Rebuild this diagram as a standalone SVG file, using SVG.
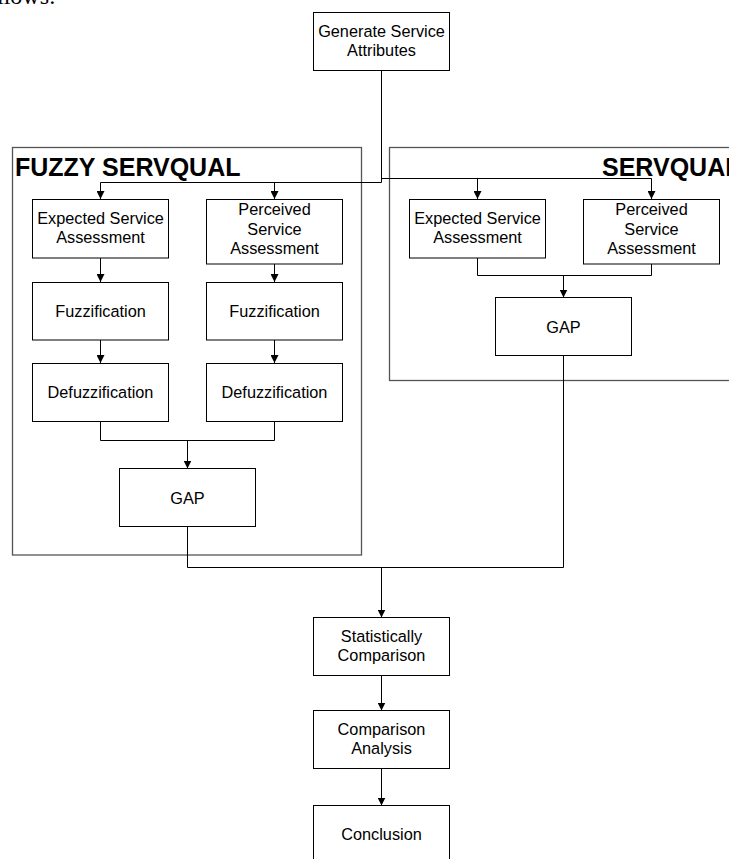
<svg xmlns="http://www.w3.org/2000/svg" width="729" height="859" viewBox="0 0 729 859">
<style>
.box{fill:#fff;stroke:#000;stroke-width:1}
.cont{fill:none;stroke:#555;stroke-width:1.3}
.t{font-family:"Liberation Sans",Arial,sans-serif;font-size:16.3px;text-anchor:middle;fill:#000}
.title{font-family:"Liberation Sans",Arial,sans-serif;font-size:25px;font-weight:bold;fill:#000}
.conn{fill:none;stroke:#000;stroke-width:1}
.page{font-family:"Liberation Serif","Times New Roman",serif;font-size:24px;fill:#000}
</style>
<defs>
<marker id="arr" markerUnits="userSpaceOnUse" markerWidth="8" markerHeight="8" refX="8" refY="4" orient="auto">
<path d="M0,0 L8,4 L0,8 z" fill="#000"/>
</marker>
</defs>
<rect width="729" height="859" fill="#fff"/>
<text class="page" x="-3" y="4">llows:</text>

<g id="fuzzy-container">
<rect class="cont" x="12.5" y="147.5" width="349" height="407.5"/>
<text class="title" x="15" y="175.5">FUZZY SERVQUAL</text>
</g>
<g id="servqual-container">
<rect class="cont" x="389.5" y="147.5" width="360" height="233"/>
<text class="title" x="602" y="175.5">SERVQUAL</text>
</g>

<g id="connectors">
<path class="conn" d="M381.5,70.5 V182.5 H100.5 V199" marker-end="url(#arr)"/>
<path class="conn" d="M274.5,182.5 V199" marker-end="url(#arr)"/>
<path class="conn" d="M381.5,178.5 H651.5 V199" marker-end="url(#arr)"/>
<path class="conn" d="M477.5,178.5 V199" marker-end="url(#arr)"/>
<path class="conn" d="M100.5,258 V282" marker-end="url(#arr)"/>
<path class="conn" d="M274.5,264 V282" marker-end="url(#arr)"/>
<path class="conn" d="M100.5,340 V363" marker-end="url(#arr)"/>
<path class="conn" d="M274.5,340 V363" marker-end="url(#arr)"/>
<path class="conn" d="M100.5,421 V440.5 H274.5 V421"/>
<path class="conn" d="M187.5,440.5 V468.5" marker-end="url(#arr)"/>
<path class="conn" d="M477.5,258 V275.5 H651.5 V264"/>
<path class="conn" d="M563.5,275.5 V297.5" marker-end="url(#arr)"/>
<path class="conn" d="M187.5,526.5 V567.5 H563.5 V355.5"/>
<path class="conn" d="M381.5,567.5 V617.5" marker-end="url(#arr)"/>
<path class="conn" d="M381.5,675.5 V710.5" marker-end="url(#arr)"/>
<path class="conn" d="M381.5,768.5 V805.5" marker-end="url(#arr)"/>
</g>

<g id="generate">
<rect class="box" x="313.5" y="12.5" width="136" height="58"/>
<text class="t" x="381.5" y="37">Generate Service</text>
<text class="t" x="381.5" y="55.5">Attributes</text>
</g>
<g id="f-expected">
<rect class="box" x="32.5" y="199.5" width="136" height="58.5"/>
<text class="t" x="100.5" y="224">Expected Service</text>
<text class="t" x="100.5" y="243">Assessment</text>
</g>
<g id="f-perceived">
<rect class="box" x="206.5" y="199.5" width="136" height="64.5"/>
<text class="t" x="274.5" y="215">Perceived</text>
<text class="t" x="274.5" y="234.5">Service</text>
<text class="t" x="274.5" y="254">Assessment</text>
</g>
<g id="f-fuzz-1">
<rect class="box" x="32.5" y="282.5" width="136" height="57.5"/>
<text class="t" x="100.5" y="317">Fuzzification</text>
</g>
<g id="f-fuzz-2">
<rect class="box" x="206.5" y="282.5" width="136" height="57.5"/>
<text class="t" x="274.5" y="317">Fuzzification</text>
</g>
<g id="f-defuzz-1">
<rect class="box" x="32.5" y="363.5" width="136" height="58"/>
<text class="t" x="100.5" y="398">Defuzzification</text>
</g>
<g id="f-defuzz-2">
<rect class="box" x="206.5" y="363.5" width="136" height="58"/>
<text class="t" x="274.5" y="398">Defuzzification</text>
</g>
<g id="f-gap">
<rect class="box" x="119.5" y="468.5" width="136" height="58"/>
<text class="t" x="187.5" y="503.5">GAP</text>
</g>
<g id="s-expected">
<rect class="box" x="409.5" y="199.5" width="136" height="58.5"/>
<text class="t" x="477.5" y="224">Expected Service</text>
<text class="t" x="477.5" y="243">Assessment</text>
</g>
<g id="s-perceived">
<rect class="box" x="583.5" y="199.5" width="136" height="64.5"/>
<text class="t" x="651.5" y="215">Perceived</text>
<text class="t" x="651.5" y="234.5">Service</text>
<text class="t" x="651.5" y="254">Assessment</text>
</g>
<g id="s-gap">
<rect class="box" x="495.5" y="297.5" width="136" height="58"/>
<text class="t" x="563.5" y="332.5">GAP</text>
</g>
<g id="statistically">
<rect class="box" x="313.5" y="617.5" width="136" height="58"/>
<text class="t" x="381.5" y="642">Statistically</text>
<text class="t" x="381.5" y="661">Comparison</text>
</g>
<g id="comparison">
<rect class="box" x="313.5" y="710.5" width="136" height="58"/>
<text class="t" x="381.5" y="735">Comparison</text>
<text class="t" x="381.5" y="754">Analysis</text>
</g>
<g id="conclusion">
<rect class="box" x="313.5" y="805.5" width="136" height="58"/>
<text class="t" x="381.5" y="840">Conclusion</text>
</g>
</svg>
